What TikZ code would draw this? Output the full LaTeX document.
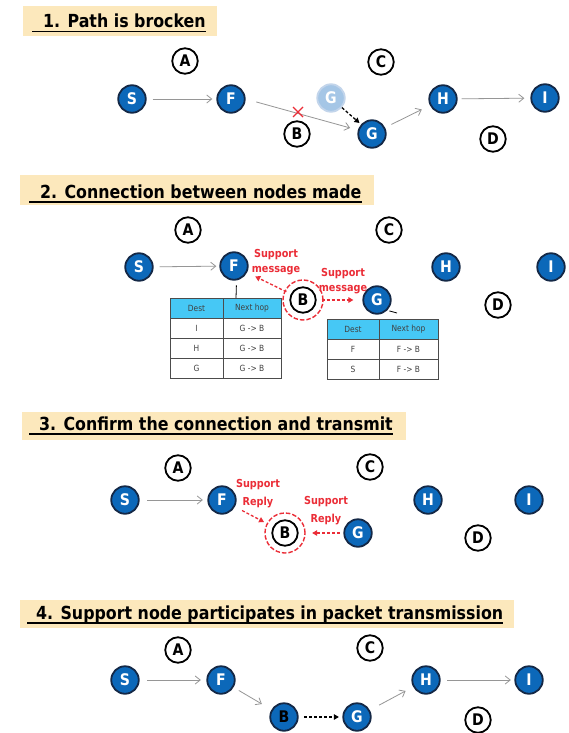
\documentclass[tikz,border=0pt]{standalone}
\usepackage{fontspec}
\newfontfamily\tah[FakeStretch=0.88]{DejaVu Sans}
\usetikzlibrary{arrows.meta}
\definecolor{nodeblue}{RGB}{12,104,185}
\definecolor{nodeline}{RGB}{20,40,70}
\definecolor{fadeblue}{RGB}{165,198,230}
\definecolor{fadeline}{RGB}{195,213,235}
\definecolor{titlefill}{RGB}{252,232,188}
\definecolor{msgred}{RGB}{235,45,55}
\definecolor{hdrblue}{RGB}{70,200,245}
\definecolor{linkgray}{RGB}{150,150,150}
\tikzstyle{bnode} = [circle, draw=nodeline, line width=1.8pt, fill=nodeblue, text=white, minimum size=27.5pt, inner sep=0pt, font=\tah\bfseries\fontsize{16}{16}\selectfont]
\tikzstyle{wnode} = [bnode, draw=black, fill=white, text=black, minimum size=25.5pt]
\tikzstyle{fnode} = [bnode, draw=fadeline, fill=fadeblue]
\tikzstyle{ring} = [circle, draw=msgred, line width=1.4pt, dash pattern=on 4.5pt off 2pt, minimum size=40pt]
\tikzstyle{titlebox} = [rectangle, fill=titlefill, anchor=north west, inner sep=0pt]
\tikzstyle{titletext} = [anchor=base west, inner sep=0pt, font=\tah\bfseries\fontsize{18}{18}\selectfont]
\tikzstyle{uline} = [line width=1.5pt]
\tikzstyle{link} = [->, linkgray, line width=0.8pt]
\tikzstyle{dlink} = [-{Triangle[length=5pt,width=5.5pt]}, line width=1.3pt, dash pattern=on 3pt off 2pt]
\tikzstyle{rlink} = [dlink, msgred]
\tikzstyle{msg} = [text=msgred, align=center, inner sep=0pt, font=\tah\bfseries\fontsize{11}{14.5}\selectfont]
\tikzstyle{cell} = [rectangle, draw=black!70, line width=0.6pt, anchor=north west, minimum height=20pt, inner sep=0pt, outer sep=0pt, text=black!75, font=\tah\fontsize{8.5}{9}\selectfont]
\tikzstyle{hcell} = [cell, fill=hdrblue]
\begin{document}
\begin{tikzpicture}[x=1pt, y=-1pt, >={Straight Barb[length=5pt,width=8pt]}]
    \fill[white] (0,0) rectangle (568,733);
    \useasboundingbox (0,0) rectangle (568,733);

    % 1. broken path
    \node [titlebox, minimum width=194pt, minimum height=30pt] (box1) at (23,6) {};
    \node [titletext] (ttl1) at (43,28) {1. Path is brocken};
    \draw [uline] ([xshift=-11pt,yshift=-3.5pt]ttl1.base west) -- ([yshift=-3.5pt]ttl1.base east);
    \node [wnode] (a1) at (185,61) {A};
    \node [wnode] (c1) at (381,62) {C};
    \node [bnode] (s1) at (132,99) {S};
    \node [bnode] (f1) at (231,99) {F};
    \node [fnode] (gf) at (331,98) {G};
    \node [wnode] (b1) at (297,134) {B};
    \node [bnode] (g1) at (372,134) {G};
    \node [bnode] (h1) at (443,99) {H};
    \node [bnode] (i1) at (545,98) {I};
    \node [wnode] (d1) at (493,139) {D};
    \coordinate (cut) at (298,112);
    \draw [link, shorten <=6pt, shorten >=4pt] (s1) -- (f1);
    \draw [link, shorten <=11pt, shorten >=8pt] (f1.east) -- (g1);
    \draw [dlink, shorten >=2pt] (gf) -- (g1);
    \draw [link, shorten <=7pt, shorten >=9pt] (g1) -- (h1);
    \draw [link, shorten <=4pt, shorten >=6pt] (h1) -- (i1);
    \draw [msgred, line width=1.3pt] ([shift={(-5,-5)}]cut) -- ([shift={(5,5)}]cut);
    \draw [msgred, line width=1.3pt] ([shift={(-5,5)}]cut) -- ([shift={(5,-5)}]cut);

    % 2. support node connects F and G
    \node [titlebox, minimum width=354pt, minimum height=30pt] (box2) at (20,175) {};
    \node [titletext] (ttl2) at (40,198) {2. Connection between nodes made};
    \draw [uline] ([xshift=-11pt,yshift=-4pt]ttl2.base west) -- ([yshift=-4pt]ttl2.base east);
    \node [wnode] (a2) at (188,230) {A};
    \node [wnode] (c2) at (389,230) {C};
    \node [bnode] (s2) at (139,267) {S};
    \node [bnode] (f2) at (234,266) {F};
    \node [bnode] (h2) at (446,267) {H};
    \node [bnode] (i2) at (551,267) {I};
    \node [ring] (ring2) at (303,300) {};
    \node [wnode] (b2) at (303,300) {B};
    \node [bnode] (g2) at (377,300) {G};
    \node [wnode] (d2) at (498,305) {D};
    \draw [link, shorten <=6pt, shorten >=3pt] (s2) -- (f2);
    \draw [rlink, shorten <=5pt, shorten >=9pt] (b2) -- (f2);
    \draw [rlink, shorten <=5pt, shorten >=9pt] (b2) -- (g2);
    \node [msg] (msg2a) at (276,262) {Support\\message};
    \node [msg] (msg2b) at (343,281) {Support\\message};
    % routing table of F
    \node [hcell, minimum width=53pt] (t1a) at (170,298) {Dest};
    \node [hcell, minimum width=58pt] (t1b) at (223,298) {Next hop};
    \node [cell, minimum width=53pt] (t1c) at (170,318) {I};
    \node [cell, minimum width=58pt] (t1d) at (223,318) {G -> B};
    \node [cell, minimum width=53pt] (t1e) at (170,338) {H};
    \node [cell, minimum width=58pt] (t1f) at (223,338) {G -> B};
    \node [cell, minimum width=53pt] (t1g) at (170,358) {G};
    \node [cell, minimum width=58pt] (t1h) at (223,358) {G -> B};
    % routing table of G
    \node [hcell, minimum width=52pt] (t2a) at (327,319) {Dest};
    \node [hcell, minimum width=59pt] (t2b) at (379,319) {Next hop};
    \node [cell, minimum width=52pt] (t2c) at (327,339) {F};
    \node [cell, minimum width=59pt] (t2d) at (379,339) {F -> B};
    \node [cell, minimum width=52pt] (t2e) at (327,359) {S};
    \node [cell, minimum width=59pt] (t2f) at (379,359) {F -> B};
    \draw [line width=0.8pt, shorten <=5pt] (f2.-80) -- ([xshift=13pt]t1b.north west);
    \draw [line width=0.8pt, shorten <=2pt] (g2.-45) -- ([xshift=18pt,yshift=6pt]t2b.north west);

    % 3. replies to the support node
    \node [titlebox, minimum width=384pt, minimum height=28pt] (box3) at (22,412) {};
    \node [titletext] (ttl3) at (39,430) {3. Confirm the connection and transmit};
    \draw [uline] ([xshift=-10pt,yshift=-4pt]ttl3.base west) -- ([yshift=-4pt]ttl3.base east);
    \node [wnode] (a3) at (178,468) {A};
    \node [wnode] (c3) at (370,467) {C};
    \node [bnode] (s3) at (125,500) {S};
    \node [bnode] (f3) at (222,500) {F};
    \node [bnode] (h3) at (428,500) {H};
    \node [bnode] (i3) at (529,500) {I};
    \node [ring] (ring3) at (285,533) {};
    \node [wnode] (b3) at (285,533) {B};
    \node [bnode] (g3) at (358,533) {G};
    \node [wnode] (d3) at (478,538) {D};
    \draw [link, shorten <=7.5pt, shorten >=4.5pt] (s3) -- (f3);
    \draw [rlink, shorten <=8pt, shorten >=10pt] (f3) -- (b3);
    \draw [rlink, shorten <=3.5pt, shorten >=13.5pt] (g3) -- (b3);
    \node [msg] (msg3a) at (258,494) {Support\\[3.5pt]Reply};
    \node [msg] (msg3b) at (326,511) {Support\\[3.5pt]Reply};

    % 4. new path through the support node
    \node [titlebox, minimum width=494pt, minimum height=28pt] (box4) at (20,600) {};
    \node [titletext] (ttl4) at (36,619) {4. Support node participates in packet transmission};
    \draw [uline] ([xshift=-9pt,yshift=-4pt]ttl4.base west) -- ([yshift=-4pt]ttl4.base east);
    \node [wnode] (a4) at (178,650) {A};
    \node [wnode] (c4) at (370,648) {C};
    \node [bnode] (s4) at (125,680) {S};
    \node [bnode] (f4) at (221,680) {F};
    \node [bnode] (h4) at (426,680) {H};
    \node [bnode] (i4) at (529,680) {I};
    \node [bnode, text=black] (b4) at (284,717) {B};
    \node [bnode] (g4) at (357,717) {G};
    \node [wnode] (d4) at (478,720) {D};
    \draw [link, shorten <=7.5pt, shorten >=5.5pt] (s4) -- (f4);
    \draw [link, shorten <=6pt, shorten >=11pt] (f4) -- (b4);
    \draw [dlink, shorten <=5.5pt, shorten >=3.5pt] (b4) -- (g4);
    \draw [link, shorten <=10.5pt, shorten >=8.5pt] (g4) -- (h4);
    \draw [link, shorten <=6.5pt, shorten >=3.5pt] (h4) -- (i4);
\end{tikzpicture}
\end{document}
